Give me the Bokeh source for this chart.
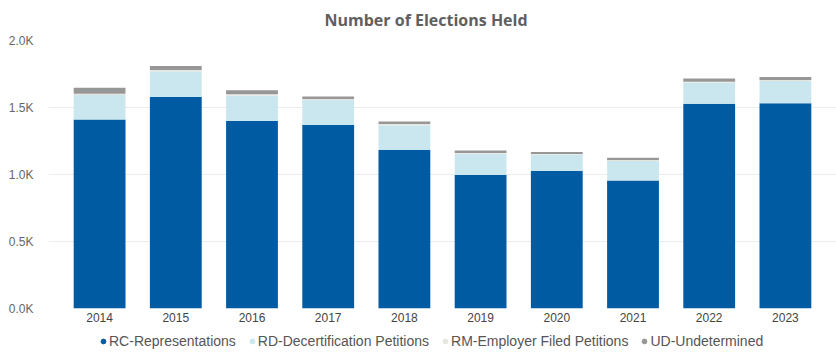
from bokeh.plotting import figure
from bokeh.layouts import column
from bokeh.models import (FactorRange, Range1d, FixedTicker, Legend, LegendItem,
                          ColumnDataSource)
from bokeh.embed import file_html
from bokeh.resources import INLINE

# ---- data ----
years = ["2014", "2015", "2016", "2017", "2018", "2019", "2020", "2021", "2022", "2023"]
rc_representations = [1411, 1578, 1399, 1369, 1185, 996, 1026, 956, 1528, 1531]
rd_decertification = [183, 193, 191, 187, 183, 158, 121, 145, 157, 167]
rm_employer = [8, 8, 8, 7, 8, 6, 6, 7, 7, 7]
ud_undetermined = [45, 30, 30, 20, 20, 20, 15, 17, 25, 22]

series_keys = ["rc", "rd", "rm", "ud"]
series_labels = ["RC-Representations", "RD-Decertification Petitions",
                 "RM-Employer Filed Petitions", "UD-Undetermined"]
series_colors = ["#005BA3", "#CAE7F0", "#E6E6DF", "#979797"]

y_ticks = [0, 500, 1000, 1500, 2000]
y_tick_labels = ["0.0K", "0.5K", "1.0K", "1.5K", "2.0K"]

title_text = "Number of Elections Held"

source = ColumnDataSource(dict(years=years, rc=rc_representations, rd=rd_decertification,
                               rm=rm_employer, ud=ud_undetermined))

p = figure(width=836, height=330, output_backend="svg", toolbar_location=None,
           x_range=FactorRange(factors=years, range_padding=0.0341),
           y_range=Range1d(0, 2000),
           min_border_left=48, min_border_right=0, min_border_top=0,
           min_border_bottom=22)
p.outline_line_color = None
p.background_fill_color = "white"
p.border_fill_color = "white"

p.title.text = title_text
p.title.align = "left"
p.title.offset = 276
p.title.vertical_align = "top"
p.title.text_font = "Open Sans"
p.title.text_font_style = "bold"
p.title.text_font_size = "16px"
p.title.text_color = "#5f5f5f"
p.title.standoff = 16

p.vbar_stack(series_keys, x="years", width=0.68, source=source,
             color=series_colors, line_color=None)

# axes
p.yaxis.ticker = FixedTicker(ticks=y_ticks)
p.yaxis.major_label_overrides = {t: l for t, l in zip(y_ticks, y_tick_labels)}
for ax in (p.xaxis[0], p.yaxis[0]):
    ax.axis_line_color = None
    ax.major_tick_line_color = None
    ax.minor_tick_line_color = None
    ax.major_label_text_font = "Liberation Sans"
    ax.major_label_text_font_size = "12px"
p.yaxis.major_label_text_color = "#666666"
p.xaxis.major_label_text_color = "#444444"
p.yaxis.major_label_standoff = 9
p.xaxis.major_label_standoff = -2

p.xgrid.grid_line_color = None
p.ygrid.grid_line_color = "#ececec"
p.ygrid.grid_line_width = 1

# ---- legend strip (separate figure below the chart) ----
p2 = figure(width=836, height=22, output_backend="svg", toolbar_location=None,
            x_range=Range1d(0, 1), y_range=Range1d(0, 1),
            x_axis_type=None, y_axis_type=None, min_border=0)
p2.outline_line_color = None
p2.xgrid.grid_line_color = None
p2.ygrid.grid_line_color = None

items = []
for lab, col in zip(series_labels, series_colors):
    r = p2.scatter(x=[-10], y=[-10], marker="circle", size=5,
                   fill_color=col, line_color=col)
    items.append(LegendItem(label=lab, renderers=[r]))

legend = Legend(items=items, orientation="horizontal", location=(49, 2),
                border_line_color=None, background_fill_alpha=0,
                label_text_font="Liberation Sans", label_text_font_size="14px",
                label_text_color="#555555", glyph_width=12, glyph_height=12,
                label_standoff=-2, spacing=10, padding=0, margin=0,
                label_height=18)
p2.add_layout(legend, "center")

layout = column(p, p2, spacing=0)

open("out.html", "w").write(file_html(layout, INLINE))
